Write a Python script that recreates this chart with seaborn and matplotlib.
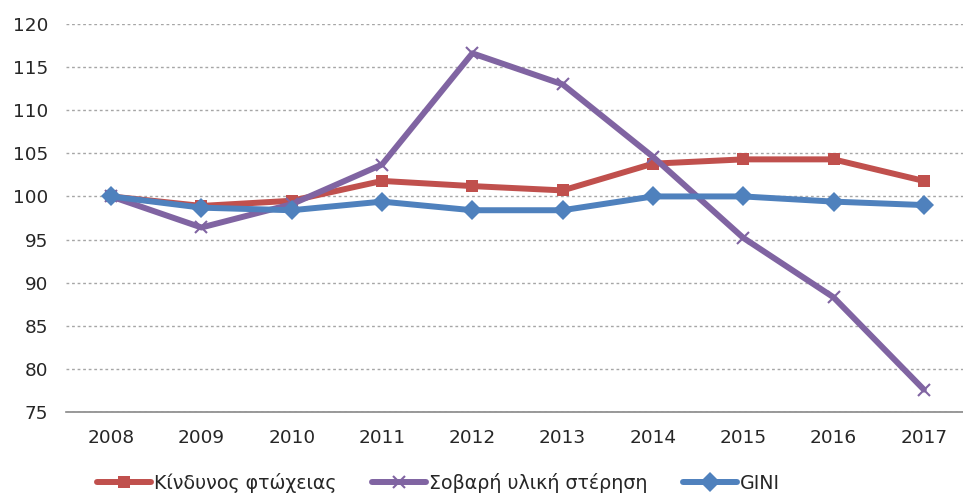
import numpy as np
import pandas as pd
import matplotlib
matplotlib.use("Agg")
import matplotlib.pyplot as plt
import seaborn as sns
from matplotlib.ticker import MultipleLocator, FixedLocator

years = [2008, 2009, 2010, 2011, 2012, 2013, 2014, 2015, 2016, 2017]
poverty_risk = [100, 98.9, 99.5, 101.8, 101.2, 100.7, 103.8, 104.3, 104.3, 101.8]
material_dep = [100, 96.4, 99.1, 103.7, 116.6, 113.0, 104.6, 95.2, 88.3, 77.6]
gini = [100, 98.7, 98.4, 99.4, 98.4, 98.4, 100, 100, 99.4, 99.0]

labels = ['Κίνδυνος φτώχειας', 'Σοβαρή υλική στέρηση', 'GINI']
colors = ['#C0504D', '#8064A2', '#4F81BD']
markers = ['s', 'x', 'D']

df = pd.DataFrame({'year': years, labels[0]: poverty_risk,
                   labels[1]: material_dep, labels[2]: gini})
long_df = df.melt(id_vars='year', var_name='series', value_name='value')

sns.set_style('white')
plt.rcParams['font.family'] = ['DejaVu Sans']

fig = plt.figure(figsize=(9.63, 4.93), dpi=100)
ax = fig.add_axes([66 / 963, 1 - 412 / 493, 903 / 963, 388 / 493])

for lab, col, mk in zip(labels, colors, markers):
	sub = long_df[long_df['series'] == lab]
	if mk == 'x':
		sns.lineplot(data=sub, x='year', y='value', ax=ax, color=col, linewidth=4.3,
		             marker=mk, markersize=8, markeredgewidth=1.5, markeredgecolor=col,
		             label=lab)
	elif mk == 'D':
		sns.lineplot(data=sub, x='year', y='value', ax=ax, color=col, linewidth=4.3,
		             marker=mk, markersize=10, markeredgewidth=0, label=lab)
	else:
		sns.lineplot(data=sub, x='year', y='value', ax=ax, color=col, linewidth=4.3,
		             marker=mk, markersize=8.5, markeredgewidth=0, label=lab)

ax.set_xlim(years[0] - 0.5, years[-1] + 0.5)
ax.set_ylim(75, 120)
ax.yaxis.set_major_locator(MultipleLocator(5))
ax.set_xticks(years)
ax.set_xticklabels([str(y) for y in years])
ax.xaxis.set_minor_locator(FixedLocator(np.arange(years[0] - 0.5, years[-1] + 0.6, 1)))
ax.tick_params(axis='x', which='major', length=0, pad=12, labelsize=13.3, colors='#262626')
ax.tick_params(axis='x', which='minor', length=6, width=1, color='#888888', direction='out')
ax.tick_params(axis='y', length=0, pad=13, labelsize=13.3, colors='#262626')

ax.set_xlabel('')
ax.set_ylabel('')
ax.grid(axis='y', color='#A6A6A6', linestyle=(0, (2, 2)), linewidth=1)
ax.grid(axis='x', visible=False)
ax.set_axisbelow(True)
for side in ['top', 'right', 'left']:
	ax.spines[side].set_visible(False)
ax.spines['bottom'].set_color('#888888')
ax.spines['bottom'].set_linewidth(1.2)
ax.spines['bottom'].set_zorder(5)

leg = ax.legend(loc='center', bbox_to_anchor=(0.4125, -0.183), ncol=3, frameon=False,
                fontsize=13.7, handlelength=2.85, handletextpad=0.15, columnspacing=1.85,
                borderaxespad=0, borderpad=0)
for t in leg.get_texts():
	t.set_color('#262626')

fig.savefig('out.png', dpi=100)
